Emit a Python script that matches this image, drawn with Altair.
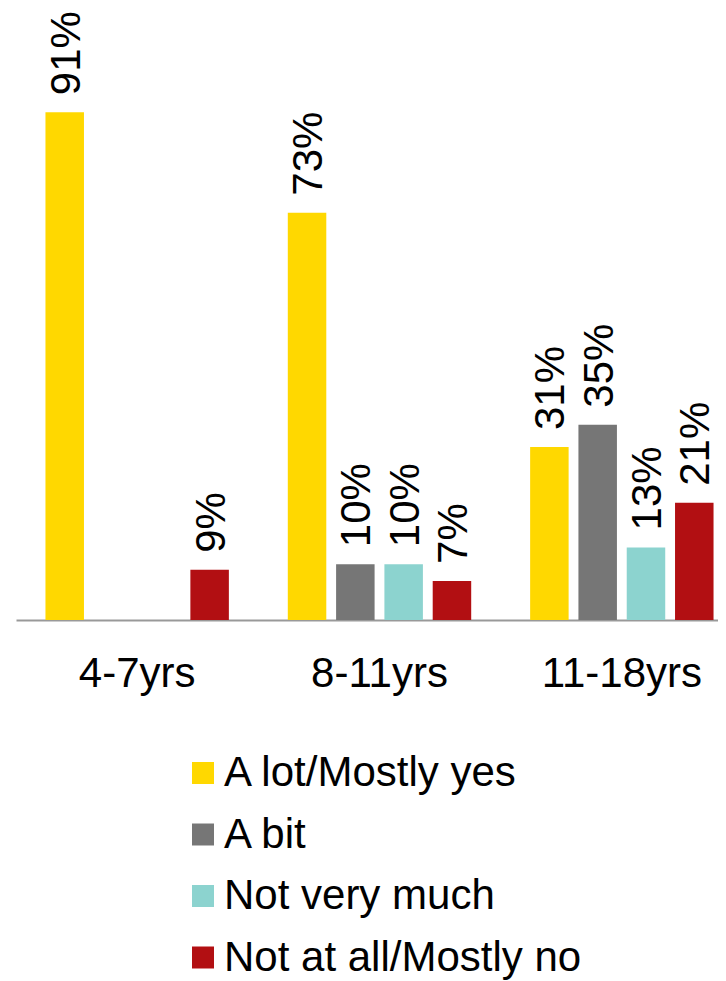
import altair as alt
import pandas as pd

groups = ["4-7yrs", "8-11yrs", "11-18yrs"]
series = ["A lot/Mostly yes", "A bit", "Not very much", "Not at all/Mostly no"]
a_lot = [91, 73, 31]
a_bit = [None, 10, 35]
not_very = [None, 10, 13]
not_at_all = [9, 7, 21]
colors = ["#FFD800", "#767676", "#8CD3CF", "#B20F12"]

rows = []
for s, vals in zip(series, [a_lot, a_bit, not_very, not_at_all]):
    for g, v in zip(groups, vals):
        if v is not None:
            rows.append({"group": g, "series": s, "value": v, "label": f"{v}%"})
df = pd.DataFrame(rows)

FONT = "Liberation Sans"
FS = 42

x = alt.X(
    "group:N", sort=groups, title=None,
    scale=alt.Scale(domain=groups, range=[0, 727], paddingInner=0, paddingOuter=0),
    axis=alt.Axis(labelAngle=0, labelFontSize=FS, labelFont=FONT, labelColor="black",
                  ticks=False, tickSize=0, domainColor="#999999", domainWidth=2,
                  labelPadding=33, grid=False),
)
xo = alt.XOffset("series:N", sort=series,
                 scale=alt.Scale(domain=series, paddingInner=0.203, paddingOuter=0.61))
y = alt.Y("value:Q", scale=alt.Scale(domain=[0, 100]), axis=None)
color = alt.Color(
    "series:N", sort=series,
    scale=alt.Scale(domain=series, range=colors),
    legend=alt.Legend(title=None, orient="none", legendX=166, legendY=690,
                      direction="vertical", symbolType="square", symbolSize=484,
                      symbolStrokeWidth=0, labelFontSize=FS, labelFont=FONT,
                      labelColor="black", rowPadding=19.5, labelOffset=0, padding=0,
                      labelLimit=600),
)

bars = alt.Chart(df).mark_bar().encode(x=x, xOffset=xo, y=y, color=color)
text = alt.Chart(df).mark_text(
    angle=270, align="left", baseline="middle", dx=17, dy=2, fontSize=FS,
    font=FONT, color="black"
).encode(x=x, xOffset=xo, y=y, text="label:N")

chart = (bars + text).properties(
    width=702, height=558,
    autosize=alt.AutoSizeParams(type="none"),
    padding={"left": 8, "right": 0, "top": 54, "bottom": 361},
).configure_view(stroke=None)

chart.save("out.html", embed_options={"renderer": "svg", "actions": False})
